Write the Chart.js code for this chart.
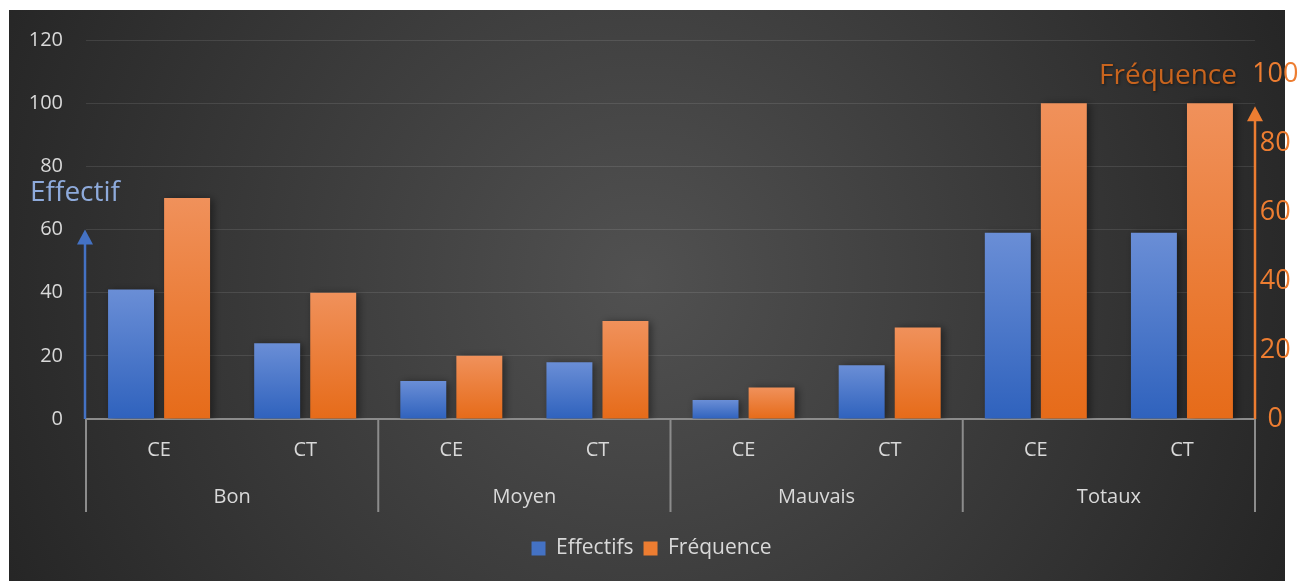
<!DOCTYPE html>
<html>
<head>
<meta charset="utf-8">
<script src="https://cdn.jsdelivr.net/npm/chart.js@4"></script>
<style>
  body { margin: 0; background: #fff; }
  canvas { display: block; }
</style>
</head>
<body>
<canvas id="myChart" width="1303" height="581"></canvas>
<script>
// data
const groups = ['Bon', 'Moyen', 'Mauvais', 'Totaux'];
const subLabels = ['CE', 'CT'];
const effectifs = [41, 24, 12, 18, 6, 17, 59, 59];
const frequence = [70, 40, 20, 31, 10, 29, 100, 100];
const leftTicks = [0, 20, 40, 60, 80, 100, 120];
const rightTicks = [0, 20, 40, 60, 80, 100];

const labels = [];
groups.forEach((g) => subLabels.forEach((s) => labels.push(s)));

const textColor = '#d9d9d9';
const lineGray = '#8c8c8c';
const legendColors = ['#4472c4', '#ed7d31'];

Chart.defaults.font.family = '"Open Sans", "Noto Sans", sans-serif';

// gradient per bar, from its top down to the axis
const barFill = function (top, bottom) {
    return function (c) {
        const chart = c.chart;
        const area = chart.chartArea;
        if (!area || !c.parsed) return bottom;
        const y0 = chart.scales.y.getPixelForValue(c.parsed.y);
        const g = chart.ctx.createLinearGradient(0, y0, 0, area.bottom);
        g.addColorStop(0, top);
        g.addColorStop(1, bottom);
        return g;
    };
};

//background panel
const panel = {
    id: 'panel',
    beforeDraw(chart) {
        const ctx = chart.ctx;
        ctx.save();
        ctx.fillStyle = '#ffffff';
        ctx.fillRect(0, 0, chart.width, chart.height);
        const g = ctx.createRadialGradient(640, 280, 0, 640, 280, 760);
        g.addColorStop(0, '#515151');
        g.addColorStop(1, '#222222');
        ctx.fillStyle = g;
        ctx.fillRect(9, 10, 1276, 571);
        ctx.restore();
    },
    beforeDatasetsDraw(chart) {
        const ctx = chart.ctx;
        ctx.save();
        ctx.shadowColor = 'rgba(0,0,0,0.45)';
        ctx.shadowBlur = 8;
        ctx.shadowOffsetX = 3;
        ctx.shadowOffsetY = 1;
    },
    afterDatasetsDraw(chart) {
        chart.ctx.restore();
    }
};

const arrow = function (ctx, x, yFrom, yTo, color) {
    ctx.strokeStyle = color;
    ctx.fillStyle = color;
    ctx.lineWidth = 2.5;
    ctx.beginPath();
    ctx.moveTo(x, yFrom);
    ctx.lineTo(x, yTo + 12);
    ctx.stroke();
    ctx.beginPath();
    ctx.moveTo(x, yTo);
    ctx.lineTo(x - 8, yTo + 15);
    ctx.lineTo(x + 8, yTo + 15);
    ctx.closePath();
    ctx.fill();
};

// group row, separators, axis arrows and titles
const extras = {
    id: 'extras',
    afterDraw(chart) {
        const ctx = chart.ctx;
        const x = chart.scales.x;
        const y = chart.scales.y;
        const area = chart.chartArea;
        const sepBottom = x.top + 93;
        ctx.save();

        ctx.strokeStyle = lineGray;
        ctx.lineWidth = 2;
        const edges = [area.left];
        for (let k = 1; k < groups.length; k++) {
            const i = k * subLabels.length;
            edges.push((x.getPixelForTick(i - 1) + x.getPixelForTick(i)) / 2);
        }
        edges.push(area.right);
        edges.forEach((px) => {
            ctx.beginPath();
            ctx.moveTo(px, x.top);
            ctx.lineTo(px, sepBottom);
            ctx.stroke();
        });

        ctx.fillStyle = textColor;
        ctx.font = '20px "Open Sans"';
        ctx.textAlign = 'center';
        ctx.textBaseline = 'middle';
        groups.forEach((g, k) => {
            ctx.fillText(g, (edges[k] + edges[k + 1]) / 2, x.top + 78);
        });

        arrow(ctx, area.left - 1, area.bottom, y.getPixelForValue(60), '#4472c4');
        arrow(ctx, area.right, area.bottom, y.getPixelForValue(99), '#ed7d31');

        ctx.font = '28px "Open Sans"';
        ctx.textBaseline = 'alphabetic';
        ctx.textAlign = 'left';
        ctx.fillStyle = '#8eaadb';
        ctx.fillText('Effectif', area.left - 56, y.getPixelForValue(68) - 3);

        ctx.textAlign = 'right';
        ctx.fillStyle = '#c8641e';
        ctx.shadowColor = 'rgba(0,0,0,0.5)';
        ctx.shadowBlur = 3;
        ctx.shadowOffsetX = 1;
        ctx.shadowOffsetY = 1;
        ctx.fillText('Fréquence', area.right - 18, chart.scales.y2.getPixelForValue(100) + 10);
        ctx.restore();
    }
};

const ctx = document.getElementById('myChart').getContext('2d');
new Chart(ctx, {
    type: 'bar',
    data: {
        labels: labels,
        datasets: [{
            label: 'Effectifs',
            data: effectifs,
            yAxisID: 'y',
            backgroundColor: barFill('#6a8ed6', '#2f62bd'),
            categoryPercentage: 0.767,
            barPercentage: 0.82,
        },
        {
            label: 'Fréquence',
            data: frequence,
            yAxisID: 'y',
            backgroundColor: barFill('#f0915b', '#e66b19'),
            categoryPercentage: 0.767,
            barPercentage: 0.82,
        }]
    },
    options: {
        responsive: false,
        animation: false,
        layout: { padding: { top: 40, bottom: 12, left: 0, right: 0 } },
        scales: {
            x: {
                grid: { display: false, drawTicks: false },
                border: { display: true, color: lineGray, width: 2 },
                ticks: { color: textColor, font: { size: 20 }, padding: 19, maxRotation: 0 },
                afterFit: (s) => { s.height = 109; }
            },
            y: {
                min: 0,
                max: 120,
                grid: { color: 'rgba(255,255,255,0.1)', lineWidth: 1, drawTicks: false },
                border: { display: false },
                ticks: { color: textColor, font: { size: 20 }, padding: 23, stepSize: 20 },
                afterBuildTicks: (s) => { s.ticks = leftTicks.map((v) => ({ value: v })); },
                afterFit: (s) => { s.width = 86; }
            },
            y2: {
                position: 'right',
                min: 0,
                max: 110,
                grid: { drawOnChartArea: false, drawTicks: false },
                border: { display: false },
                ticks: { color: '#ed7d31', font: { size: 27 }, padding: -3, crossAlign: 'center' },
                afterBuildTicks: (s) => { s.ticks = rightTicks.map((v) => ({ value: v })); },
                afterFit: (s) => { s.width = 48; }
            }
        },
        plugins: {
            tooltip: { enabled: false },
            legend: {
                position: 'bottom',
                labels: {
                    color: textColor,
                    font: { size: 21 },
                    boxWidth: 14,
                    boxHeight: 14,
                    padding: 10,
                    generateLabels: (chart) => chart.data.datasets.map((d, i) => ({
                        text: d.label,
                        fillStyle: legendColors[i],
                        strokeStyle: legendColors[i],
                        lineWidth: 0,
                        hidden: false,
                        datasetIndex: i,
                        fontColor: textColor
                    }))
                }
            }
        }
    },
    plugins: [panel, extras]
});
</script>
</body>
</html>
